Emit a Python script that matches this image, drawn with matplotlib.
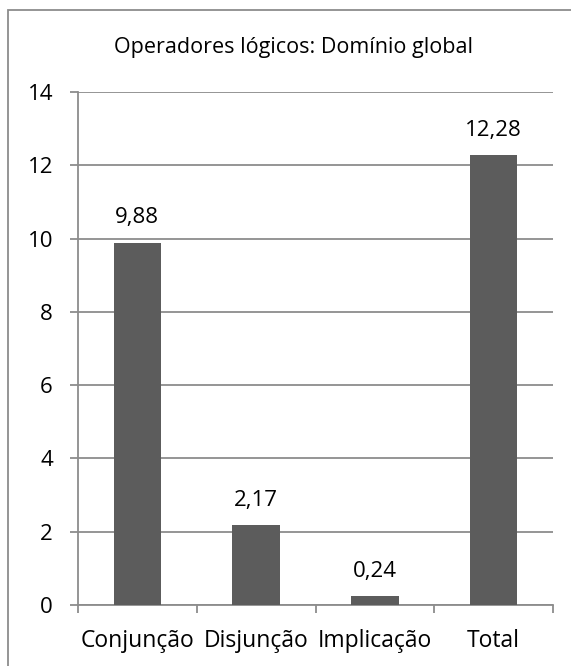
import matplotlib
matplotlib.use("Agg")
import matplotlib.pyplot as plt
from matplotlib.patches import Rectangle

categories = ["Conjunção", "Disjunção", "Implicação", "Total"]
values = [9.88, 2.17, 0.24, 12.28]
value_labels = ["9,88", "2,17", "0,24", "12,28"]
yticks = [0, 2, 4, 6, 8, 10, 12, 14]
title = "Operadores lógicos: Domínio global"

plt.rcParams['font.family'] = ['Open Sans', 'DejaVu Sans']
FS = 16

W, H = 571, 666
fig = plt.figure(figsize=(W / 100, H / 100), dpi=100)
fig.patch.set_facecolor("white")

# outer chart border (right and bottom edges lie outside the image)
fig.patches.append(Rectangle((8 / W, -0.5), 2, 1.5 - 10 / H,
                             transform=fig.transFigure, fill=False,
                             edgecolor="#8c8c8c", linewidth=1.3))

ax = fig.add_axes([78 / W, 1 - 605 / H, (553 - 78) / W, (605 - 92) / H])
grid_c = "#8c8c8c"
bar_c = "#5c5c5c"

x = list(range(len(categories)))
ax.bar(x, values, width=0.4, color=bar_c, zorder=3)
ax.set_xlim(-0.5, len(categories) - 0.5)
ax.set_ylim(0, 14)
ax.set_yticks(yticks)
ax.set_yticklabels([str(t) for t in yticks], fontsize=FS)
ax.yaxis.grid(True, color=grid_c, linewidth=1.3, zorder=0)

ax.set_xticks([i - 0.5 for i in range(len(categories) + 1)], minor=False)
ax.set_xticklabels([])
ax.set_xticks(x, minor=True)
ax.set_xticklabels(categories, minor=True, fontsize=16.5)
ax.tick_params(axis="x", which="major", length=6, width=1.3, color=grid_c, direction="out")
ax.tick_params(axis="x", which="minor", length=0, pad=17)
ax.tick_params(axis="y", length=6, width=1.3, color=grid_c, pad=12)

for s in ["top", "right"]:
    ax.spines[s].set_visible(False)
for s in ["left", "bottom"]:
    ax.spines[s].set_color(grid_c)
    ax.spines[s].set_linewidth(1.3)

for xi, v, lab in zip(x, values, value_labels):
    ax.annotate(lab, (xi, v), xytext=(0, 18), textcoords="offset points",
                ha="center", va="center", fontsize=FS)

fig.text(294 / W, 1 - 47 / H, title, ha="center", va="center", fontsize=15.5)

fig.savefig("out.png", dpi=100)
